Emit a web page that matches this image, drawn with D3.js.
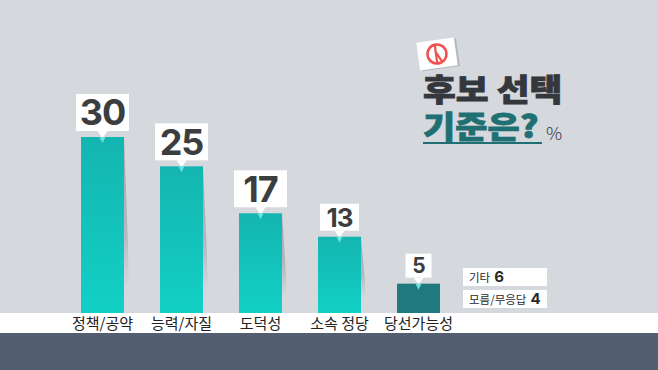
<!DOCTYPE html>
<html>
<head>
<meta charset="utf-8">
<script src="https://cdn.jsdelivr.net/npm/d3@7"></script>
<style>
	html, body { margin: 0; padding: 0; background: #d5d8dd; }
	svg { display: block; font-family: "Noto Sans CJK KR", sans-serif; }
</style>
</head>
<body>
<svg id="chart" width="658" height="370"></svg>
<script>
var categories = ['정책/공약', '능력/자질', '도덕성', '소속 정당', '당선가능성'];
var values = [30, 25, 17, 13, 5];
var otherLabels = ['기타', '모름/무응답'];
var otherValues = [6, 4];

var width = 658, height = 370, baseline = 313, footTop = 333;

var svg = d3.select('#chart');
var defs = svg.append('defs');

var grad = defs.append('linearGradient')
	.attr('id', 'barFill')
	.attr('x1', 0).attr('x2', 0).attr('y1', 0).attr('y2', 1);
grad.append('stop').attr('offset', 0).attr('stop-color', '#14b5b0');
grad.append('stop').attr('offset', 1).attr('stop-color', '#12d0c6');

var shadowGrad = defs.append('linearGradient')
	.attr('id', 'shadowFill')
	.attr('x1', 0).attr('x2', 0).attr('y1', 0).attr('y2', 1);
shadowGrad.append('stop').attr('offset', 0).attr('stop-color', '#a4a7ac');
shadowGrad.append('stop').attr('offset', 0.55).attr('stop-color', '#b4b7bc');
shadowGrad.append('stop').attr('offset', 0.9).attr('stop-color', '#d5d8dd');

// background and foot bands
svg.append('rect').attr('width', width).attr('height', height).attr('fill', '#d5d8dd');
svg.append('rect').attr('y', baseline).attr('width', width).attr('height', footTop - baseline).attr('fill', '#ffffff');
svg.append('rect').attr('y', footTop).attr('width', width).attr('height', height - footTop).attr('fill', '#535e70');

var x = d3.scaleBand()
	.domain(categories)
	.range([81, 440])
	.paddingInner(0.456);

var y = d3.scaleLinear()
	.domain([0, 30])
	.range([baseline, 137]);

// label box size goes with the bar size in the original graphic
function labelStyle(v) {
	if (v >= 17) return {w: 53, h: 37, font: 36};
	if (v >= 10) return {w: 39, h: 27, font: 26};
	return {w: 26, h: 24, font: 21};
}

var rows = categories.map(function(c, i) {
	return {name: c, value: values[i]};
});

var bars = svg.append('g').selectAll('g')
	.data(rows)
	.join('g')
	.attr('transform', function(d) {
		return 'translate(' + x(d.name) + ',0)';
	});

// shadow wedge to the right of the tall bars
bars.filter(function(d) { return d.value > 5; })
	.append('path')
	.attr('fill', 'url(#shadowFill)')
	.attr('d', function(d) {
		var bw = x.bandwidth(), top = y(d.value);
		return d3.line()([[bw, top], [bw + 4, top + (baseline - top) * 0.6], [bw + 5, baseline - 8], [bw, baseline - 8]]);
	});

bars.append('rect')
	.attr('y', function(d) { return y(d.value); })
	.attr('width', x.bandwidth())
	.attr('height', function(d) { return baseline - y(d.value); })
	.attr('fill', function(d) { return d.value > 5 ? 'url(#barFill)' : '#1f7a7e'; });

var labels = bars.append('g')
	.attr('transform', function(d) {
		var s = labelStyle(d.value);
		return 'translate(' + (x.bandwidth() / 2) + ',' + (y(d.value) - 6 - s.h) + ')';
	});

labels.append('rect')
	.attr('x', function(d) { return -labelStyle(d.value).w / 2; })
	.attr('width', function(d) { return labelStyle(d.value).w; })
	.attr('height', function(d) { return labelStyle(d.value).h; })
	.attr('fill', '#ffffff');

labels.append('path')
	.attr('fill', '#ffffff')
	.attr('d', function(d) {
		var h = labelStyle(d.value).h;
		return d3.line()([[-5, h], [5, h], [0.8, h + 6], [-0.8, h + 6]]);
	});

// the pointer carries on over the top of the bar, lighter
labels.append('path')
	.attr('fill', '#6fe0dc')
	.attr('d', function(d) {
		var h = labelStyle(d.value).h;
		return d3.line()([[-3, h + 6], [3, h + 6], [0, h + 12]]);
	});

labels.append('text')
	.attr('text-anchor', 'middle')
	.attr('y', function(d) {
		var s = labelStyle(d.value);
		return s.h / 2 + s.font * 0.36;
	})
	.attr('font-size', function(d) { return labelStyle(d.value).font; })
	.attr('font-weight', 700)
	.attr('font-family', 'Inter, sans-serif')
	.attr('letter-spacing', -1)
	.attr('fill', '#3c3d3f')
	.text(function(d) { return d.value; });

// category names on the white band
svg.append('g').selectAll('text')
	.data(rows)
	.join('text')
	.attr('x', function(d) { return x(d.name) + x.bandwidth() / 2; })
	.attr('y', 329)
	.attr('text-anchor', 'middle')
	.attr('font-size', 15)
	.attr('fill', '#222222')
	.text(function(d) { return d.name; });

// small side table for the remaining answers
var side = svg.append('g').selectAll('g')
	.data(otherLabels)
	.join('g')
	.attr('transform', function(d, i) {
		return 'translate(463,' + (268 + i * 22) + ')';
	});

side.append('rect')
	.attr('width', 84)
	.attr('height', 18)
	.attr('fill', '#ffffff');

var sideText = side.append('text')
	.attr('x', 6)
	.attr('y', 14)
	.attr('fill', '#2b2b2b');
sideText.append('tspan')
	.attr('font-size', 11.5)
	.text(function(d) { return d; });
sideText.append('tspan')
	.attr('dx', 4)
	.attr('font-size', 15)
	.attr('font-weight', 700)
	.attr('font-family', 'Inter, sans-serif')
	.text(function(d, i) { return otherValues[i]; });

// title block with ballot stamp
var stamp = svg.append('g').attr('transform', 'translate(437,54) rotate(-8)');
stamp.append('rect').attr('x', -19).attr('y', -14).attr('width', 38).attr('height', 28).attr('fill', '#b4b7bc').attr('transform', 'translate(2,1)');
stamp.append('rect').attr('x', -19).attr('y', -14).attr('width', 38).attr('height', 28).attr('fill', '#ffffff');
stamp.append('circle').attr('r', 9.5).attr('fill', 'none').attr('stroke', '#ef5350').attr('stroke-width', 2.6);
stamp.append('path')
	.attr('d', 'M-1 -9 L-1 9 M-1 -2 L4 8')
	.attr('fill', 'none')
	.attr('stroke', '#ef5350')
	.attr('stroke-width', 2.2);

// the original title has a heavier face than any installed one, so a same colour stroke thickens it
svg.append('text')
	.attr('transform', 'translate(423,101) scale(1.15,1)')
	.attr('font-size', 31).attr('font-weight', 900)
	.attr('fill', '#34373c')
	.attr('stroke', '#34373c').attr('stroke-width', 0.8)
	.text('후보 선택');

svg.append('text')
	.attr('transform', 'translate(423,138) scale(1.13,1)')
	.attr('font-size', 31).attr('font-weight', 900)
	.attr('fill', '#1f6f73')
	.attr('stroke', '#1f6f73').attr('stroke-width', 0.8)
	.text('기준은?');

svg.append('rect')
	.attr('x', 423).attr('y', 142).attr('width', 119).attr('height', 2)
	.attr('fill', '#1f6f73');

svg.append('text')
	.attr('x', 546).attr('y', 140)
	.attr('font-size', 18)
	.attr('font-weight', 300)
	.attr('fill', '#34373c')
	.text('%');
</script>
</body>
</html>
